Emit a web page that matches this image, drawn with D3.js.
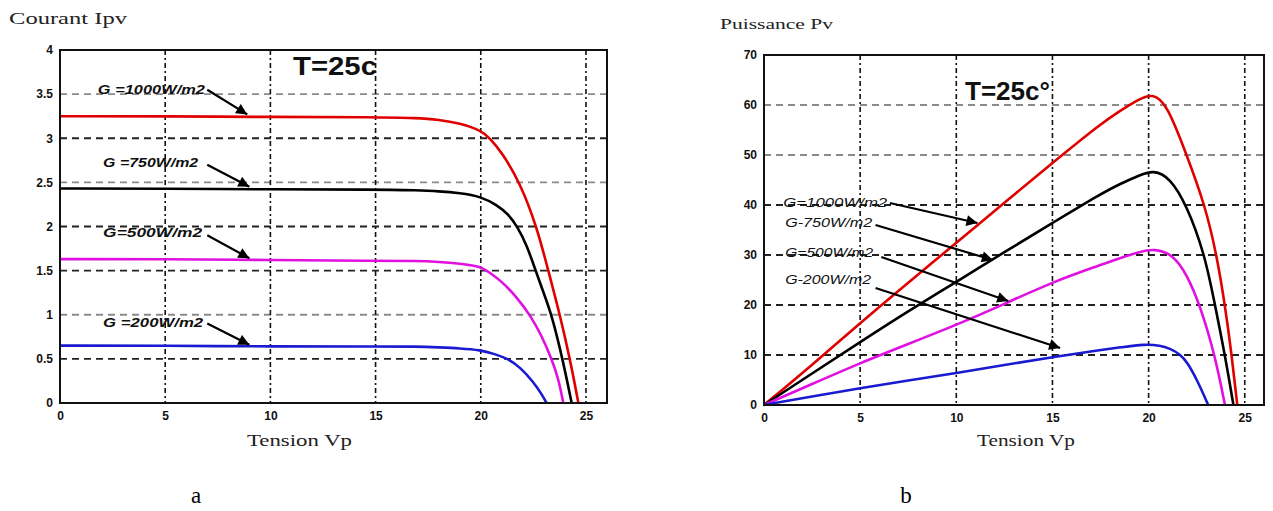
<!DOCTYPE html>
<html>
<head>
<meta charset="utf-8">
<script src="https://cdn.jsdelivr.net/npm/d3@7"></script>
<style>
  html, body { margin: 0; padding: 0; background: #fff; }
  svg { display: block; }
</style>
</head>
<body>
<svg id="chart" width="1273" height="511"></svg>
<script>
// ---------- DATA ----------
const seriesNames = ["G=1000W/m2", "G=750W/m2", "G=500W/m2", "G=200W/m2"];
const seriesColors = ["#e00000", "#000000", "#e010e0", "#1a1ad0"];

// I-V curves (chart a): Tension Vp vs Courant Ipv
const ivV1000 = [0, 5, 10, 15, 17, 18, 19, 20, 20.44, 21, 21.86, 22.66, 23.21, 23.76, 24.24, 24.64];
const ivI1000 = [3.25, 3.25, 3.24, 3.24, 3.23, 3.21, 3.17, 3.09, 3.0, 2.84, 2.5, 2.0, 1.5, 1.0, 0.5, 0];
const ivV750 = [0, 5, 10, 15, 17, 18, 19, 20, 20.8, 21.3, 21.74, 22.2, 22.58, 23.0, 23.37, 23.89, 24.32];
const ivI750 = [2.43, 2.43, 2.42, 2.42, 2.41, 2.40, 2.38, 2.34, 2.24, 2.14, 2.0, 1.78, 1.52, 1.24, 1.0, 0.5, 0];
const ivV500 = [0, 5, 10, 15, 17, 18, 19, 20, 20.28, 21, 21.7, 22.34, 22.9, 23.37, 23.7, 23.92];
const ivI500 = [1.63, 1.63, 1.62, 1.61, 1.61, 1.60, 1.58, 1.545, 1.5, 1.38, 1.2, 1.0, 0.76, 0.5, 0.27, 0];
const ivV200 = [0, 5, 10, 15, 17, 18, 19, 20, 20.6, 21.31, 21.9, 22.49, 22.9, 23.13];
const ivI200 = [0.65, 0.65, 0.64, 0.64, 0.64, 0.63, 0.62, 0.6, 0.56, 0.5, 0.4, 0.24, 0.1, 0];

// P-V curves (chart b): Tension Vp vs Puissance Pv
const pvV1000 = [0, 2.5, 5, 7.5, 10, 12.5, 15, 17.5, 18.5, 19.5, 20.2, 20.94, 21.98, 22.93, 23.54, 23.97, 24.32, 24.61];
const pvP1000 = [0, 8, 16.4, 24.5, 32.4, 40.5, 48.4, 56.2, 58.8, 61.2, 62.3, 60.3, 50, 40, 30, 20, 10, 0];
const pvV750 = [0, 2.5, 5, 7.5, 10, 12.5, 15, 17.5, 18.5, 19.5, 20.25, 21.1, 21.98, 22.93, 23.45, 23.97, 24.41];
const pvP750 = [0, 6.3, 12.6, 18.8, 24.6, 30.6, 36.4, 42.2, 44.2, 45.9, 47.0, 45.5, 40, 30, 20, 10, 0];
const pvV500 = [0, 2.5, 5, 7.5, 10, 12.5, 15, 17.5, 18.5, 19.5, 20.3, 21.28, 22.0, 22.67, 23.45, 23.97];
const pvP500 = [0, 4.2, 8.4, 12.2, 16, 20.2, 24.6, 28, 29.4, 30.6, 31.3, 30.1, 26, 20, 10, 0];
const pvV200 = [0, 2.5, 5, 7.5, 10, 12.5, 15, 17.5, 18.5, 19.8, 20.6, 21.1, 21.63, 22.0, 22.5, 23.1];
const pvP200 = [0, 1.7, 3.4, 4.9, 6.4, 8, 9.6, 11, 11.5, 12.2, 11.9, 11.3, 10.2, 8.6, 5.2, 0];

// Ticks
const xTicks = [0, 5, 10, 15, 20, 25];
const ivYTicks = [0, 0.5, 1, 1.5, 2, 2.5, 3, 3.5, 4];
const ivYTickLabels = ["0", "0.5", "1", "1.5", "2", "2.5", "3", "3.5", "4"];
const pvYTicks = [0, 10, 20, 30, 40, 50, 60, 70];
const pvYTickLabels = ["0", "10", "20", "30", "40", "50", "60", "70"];

// Annotation labels (data coordinates): text pos, arrow start, arrow tip
const ivLabels = ["G =1000W/m2", "G =750W/m2", "G=500W/m2", "G =200W/m2"];
const ivLabelPos = [[1.8, 3.5], [2.05, 2.67], [2.05, 1.88], [2.05, 0.86]];
const ivArrowFrom = [[7.0, 3.55], [7.0, 2.70], [7.0, 1.90], [7.0, 0.90]];
const ivArrowTo = [[8.9, 3.27], [9.0, 2.45], [9.0, 1.64], [9.0, 0.66]];

const pvLabels = ["G=1000W/m2", "G-750W/m2", "G=500W/m2", "G-200W/m2"];
const pvLabelPos = [[1.0, 39.6], [1.1, 35.6], [1.1, 29.6], [1.1, 24.2]];
const pvArrowFrom = [[6.55, 40.4], [5.8, 36.0], [6.1, 29.6], [5.8, 23.4]];
const pvArrowTo = [[11.1, 36.4], [11.9, 29.0], [12.7, 20.8], [15.4, 11.4]];

// ---------- DRAW ----------
const svg = d3.select("#chart");
const defs = svg.append("defs");
defs.append("marker")
  .attr("id", "arrow")
  .attr("viewBox", "0 0 10 10")
  .attr("refX", 10).attr("refY", 5)
  .attr("markerWidth", 6).attr("markerHeight", 5)
  .attr("markerUnits", "strokeWidth")
  .attr("orient", "auto")
  .append("path").attr("d", "M0,0 L10,5 L0,10 Z").attr("fill", "#000");

function drawPanel(cfg) {
  const x = d3.scaleLinear().domain([0, 26]).range([cfg.left, cfg.right]);
  const y = d3.scaleLinear().domain([0, cfg.ymax]).range([cfg.bottom, cfg.top]);
  const g = svg.append("g");

  // grid: horizontal
  g.append("g").selectAll("line").data(cfg.yTicks.filter(v => v > 0 && v < cfg.ymax)).join("line")
    .attr("x1", cfg.left).attr("x2", cfg.right)
    .attr("y1", d => y(d)).attr("y2", d => y(d))
    .attr("stroke", d => cfg.lightGrid.includes(d) ? "#8a8a8a" : "#222")
    .attr("stroke-width", 1.8)
    .attr("stroke-dasharray", "7,5");
  // grid: vertical
  g.append("g").selectAll("line").data(xTicks.filter(v => v > 0)).join("line")
    .attr("x1", d => x(d)).attr("x2", d => x(d))
    .attr("y1", cfg.top).attr("y2", cfg.bottom)
    .attr("stroke", "#111")
    .attr("stroke-width", 1.6)
    .attr("stroke-dasharray", "5,3,2,3");

  // axes via d3
  const xAxis = d3.axisBottom(x).tickValues(xTicks).tickSize(0).tickPadding(8).tickFormat(d3.format("d"));
  const ax = g.append("g").attr("transform", `translate(0,${cfg.bottom})`).call(xAxis);
  const yAxis = d3.axisLeft(y).tickValues(cfg.yTicks).tickSize(0).tickPadding(7)
    .tickFormat((d, i) => cfg.yTickLabels[i]);
  const ay = g.append("g").attr("transform", `translate(${cfg.left},0)`).call(yAxis);
  [ax, ay].forEach(a => {
    a.select(".domain").remove();
    a.selectAll("text").attr("font-family", "Arial, 'Liberation Sans', sans-serif")
      .attr("font-weight", "bold").attr("font-size", 12).attr("fill", "#111");
  });

  // curves
  const line = d3.line().x(d => x(d[0])).y(d => y(d[1])).curve(d3.curveBasis);
  cfg.series.forEach((s, i) => {
    const pts = s[0].map((v, k) => [v, s[1][k]]);
    g.append("path").datum(pts)
      .attr("d", line)
      .attr("fill", "none")
      .attr("stroke", seriesColors[i])
      .attr("stroke-width", 2.6)
      .attr("stroke-linejoin", "round");
  });

  // frame
  g.append("rect")
    .attr("x", cfg.left).attr("y", cfg.top)
    .attr("width", cfg.right - cfg.left).attr("height", cfg.bottom - cfg.top)
    .attr("fill", "none").attr("stroke", "#111").attr("stroke-width", 2);

  // annotations
  cfg.labels.forEach((t, i) => {
    g.append("text")
      .attr("x", x(cfg.labelPos[i][0])).attr("y", y(cfg.labelPos[i][1]))
      .attr("font-family", "Arial, 'Liberation Sans', sans-serif")
      .attr("font-style", "italic").attr("font-weight", cfg.labelWeight)
      .attr("font-size", 12).attr("fill", "#111")
      .attr("textLength", cfg.labelLen[i]).attr("lengthAdjust", "spacingAndGlyphs")
      .text(t);
    g.append("line")
      .attr("x1", x(cfg.arrowFrom[i][0])).attr("y1", y(cfg.arrowFrom[i][1]))
      .attr("x2", x(cfg.arrowTo[i][0])).attr("y2", y(cfg.arrowTo[i][1]))
      .attr("stroke", "#000").attr("stroke-width", 2.2)
      .attr("marker-end", "url(#arrow)");
  });

  // temperature label
  g.append("text")
    .attr("x", cfg.tempX).attr("y", cfg.tempY)
    .attr("font-family", "Arial, 'Liberation Sans', sans-serif")
    .attr("font-weight", "bold").attr("font-size", 25).attr("fill", "#111")
    .attr("textLength", cfg.tempLen).attr("lengthAdjust", "spacingAndGlyphs")
    .text(cfg.tempText);

  // axis titles
  g.append("text")
    .attr("x", cfg.yTitleX).attr("y", cfg.yTitleY)
    .attr("font-family", "'Liberation Serif', 'Times New Roman', serif")
    .attr("font-size", cfg.yTitleSize).attr("fill", "#222")
    .attr("textLength", cfg.yTitleLen).attr("lengthAdjust", "spacingAndGlyphs")
    .text(cfg.yTitle);
  g.append("text")
    .attr("x", cfg.xTitleX).attr("y", cfg.xTitleY)
    .attr("font-family", "'Liberation Serif', 'Times New Roman', serif")
    .attr("font-size", 17).attr("fill", "#222")
    .attr("textLength", cfg.xTitleLen).attr("lengthAdjust", "spacingAndGlyphs")
    .text("Tension Vp");

  // caption
  g.append("text")
    .attr("x", cfg.capX).attr("y", 503)
    .attr("text-anchor", "middle")
    .attr("font-family", "'Liberation Serif', 'Times New Roman', serif")
    .attr("font-size", 23).attr("fill", "#000")
    .text(cfg.caption);
}

drawPanel({
  left: 60, right: 607, top: 50, bottom: 403, ymax: 4,
  yTicks: ivYTicks, yTickLabels: ivYTickLabels, lightGrid: [3.5, 2.5, 1],
  series: [[ivV1000, ivI1000], [ivV750, ivI750], [ivV500, ivI500], [ivV200, ivI200]],
  labels: ivLabels, labelPos: ivLabelPos, arrowFrom: ivArrowFrom, arrowTo: ivArrowTo,
  labelLen: [107, 95, 99, 100], labelWeight: "bold",
  tempText: "T=25c", tempX: 293, tempY: 75, tempLen: 84,
  yTitle: "Courant Ipv", yTitleX: 9, yTitleY: 24, yTitleSize: 17, yTitleLen: 118,
  xTitleX: 247, xTitleY: 446, xTitleLen: 105,
  capX: 196, caption: "a"
});

drawPanel({
  left: 764, right: 1264, top: 55, bottom: 405, ymax: 70,
  yTicks: pvYTicks, yTickLabels: pvYTickLabels, lightGrid: [60, 50],
  series: [[pvV1000, pvP1000], [pvV750, pvP750], [pvV500, pvP500], [pvV200, pvP200]],
  labels: pvLabels, labelPos: pvLabelPos, arrowFrom: pvArrowFrom, arrowTo: pvArrowTo,
  labelLen: [104, 87, 88, 86], labelWeight: "normal",
  tempText: "T=25c°", tempX: 965, tempY: 100, tempLen: 85,
  yTitle: "Puissance Pv", yTitleX: 720, yTitleY: 29, yTitleSize: 14, yTitleLen: 113,
  xTitleX: 977, xTitleY: 446, xTitleLen: 98,
  capX: 906, caption: "b"
});
</script>
</body>
</html>
